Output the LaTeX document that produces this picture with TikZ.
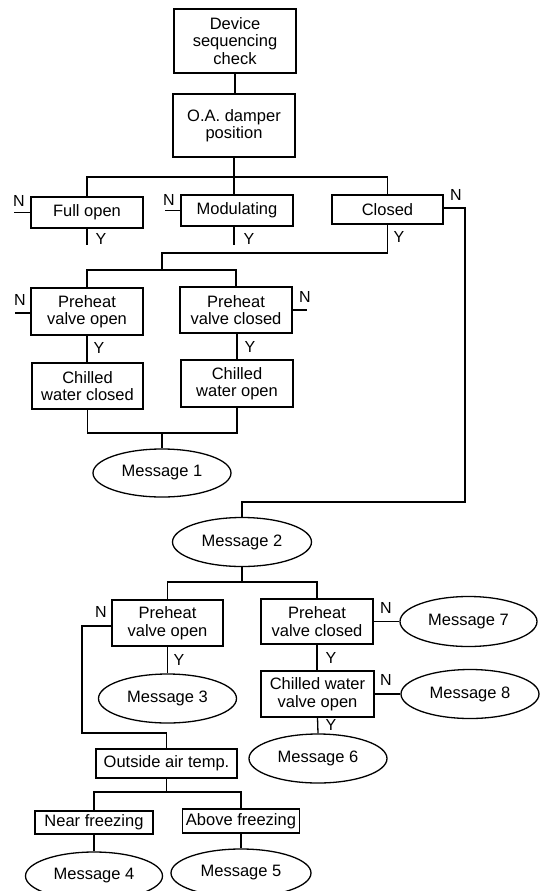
\documentclass[tikz,border=0pt]{standalone}
\usepackage{fontspec}
\setmainfont{Liberation Sans}
\usetikzlibrary{shapes.geometric}
\newcommand{\boxfont}{\fontsize{16.5}{17.5}\selectfont}
\newcommand{\lblfont}{\fontsize{16}{16}\selectfont}
\begin{document}
\begin{tikzpicture}[x=1pt,y=-1pt,
  box/.style={draw,line width=1.3pt,rectangle,inner sep=0pt,align=center,font=\boxfont},
  msg/.style={draw,line width=1.3pt,ellipse,inner sep=0pt,font=\boxfont},
  lbl/.style={inner sep=0pt,font=\lblfont},
  conn/.style={line width=1.3pt}]
\useasboundingbox (0,0) rectangle (542,891);
\clip (0,0) rectangle (542,891);
\fill[white] (0,0) rectangle (542,891);

% boxes
\node[box,minimum width=122pt,minimum height=64pt] (dev) at (235,41) {Device\\sequencing\\check};
\node[box,minimum width=122pt,minimum height=63pt] (oad) at (234,125.5) {O.A. damper\\position};
\node[box,minimum width=112pt,minimum height=31pt] (full) at (87,212.5) {Full open};
\node[box,minimum width=112pt,minimum height=31pt] (mod) at (237,210.5) {Modulating};
\node[box,minimum width=111pt,minimum height=29pt] (clo) at (387.5,209.5) {Closed};
\node[box,minimum width=112pt,minimum height=47pt] (pvo1) at (87,311.5) {Preheat\\valve open};
\node[box,minimum width=112pt,minimum height=46pt] (pvc1) at (236,310) {Preheat\\valve closed};
\node[box,minimum width=111pt,minimum height=46pt] (cwc) at (87.5,386) {Chilled\\water closed};
\node[box,minimum width=112pt,minimum height=47pt] (cwo) at (237,383.5) {Chilled\\water open};
\node[msg,minimum width=138pt,minimum height=48pt] (m1) at (162,473) {Message 1};
\node[msg,minimum width=139pt,minimum height=49pt] (m2) at (242,542) {Message 2};
\node[box,minimum width=111pt,minimum height=46pt] (pvo2) at (167.5,623) {Preheat\\valve open};
\node[box,minimum width=112pt,minimum height=45pt] (pvc2) at (317,621.5) {Preheat\\valve closed};
\node[msg,minimum width=138pt,minimum height=49pt] (m3) at (167.5,698.5) {Message 3};
\node[msg,minimum width=137pt,minimum height=50pt] (m7) at (468.5,621.5) {Message 7};
\node[box,minimum width=113pt,minimum height=46pt] (cwv) at (317.5,694) {Chilled water\\valve open};
\node[msg,minimum width=138pt,minimum height=49pt] (m8) at (470,694) {Message 8};
\node[msg,minimum width=138pt,minimum height=49pt] (m6) at (318,758.5) {Message 6};
\node[box,minimum width=141pt,minimum height=29pt] (oat) at (166.5,763.5) {Outside air temp.};
\node[box,minimum width=118pt,minimum height=23pt] (near) at (94,822.5) {Near freezing};
\node[box,minimum width=117pt,minimum height=24pt] (above) at (241,821) {Above freezing};
\node[msg,minimum width=137pt,minimum height=48pt] (m4) at (94,876) {Message 4};
\node[msg,minimum width=140pt,minimum height=48pt] (m5) at (241,873) {Message 5};

% coordinates
\coordinate (b1) at (234,177);
\coordinate (fullN) at (14,212.5);
\coordinate (modN) at (165,210.5);
\coordinate (cn1) at (465,208);
\coordinate (cn2) at (465,502);
\coordinate (fullY) at (87,245);
\coordinate (modY) at (234,245);
\coordinate (cy) at (162,253);
\coordinate (b2) at (162,270);
\coordinate (p1N) at (15,313);
\coordinate (p2N) at (307,310);
\coordinate (b3) at (162,433);
\coordinate (b4) at (242,582);
\coordinate (pn1) at (82,626);
\coordinate (pn2) at (82,733);
\coordinate (b5) at (166.5,792);

% connectors
\draw[conn] (dev.south) -- (dev.south |- oad.north);
\draw[conn] (oad.south) -- (oad.south |- mod.north);
\draw[conn] (full.north) |- (b1) -| (clo.north);
\draw[conn] (full.west) -- (fullN);
\draw[conn] (mod.west) -- (modN);
\draw[conn] (full.south) -- (fullY);
\draw[conn] (modY |- mod.south) -- (modY);
\draw[conn] (clo.east |- cn1) -- (cn1) -- (cn2) -| (m2.north);
\draw[conn] (clo.south) |- (cy) -- (b2);
\draw[conn] (pvo1.north) |- (b2) -| (pvc1.north);
\draw[conn] (pvo1.west |- p1N) -- (p1N);
\draw[conn] (pvc1.east |- p2N) -- (p2N);
\draw[conn] (pvo1.south) -- (cwc.north -| pvo1.south);
\draw[conn] (pvc1.south -| cwo.north) -- (cwo.north);
\draw[conn] (cwc.south) |- (b3) -| (cwo.south);
\draw[conn] (b3) -- (m1.north);
\draw[conn] (m2.south) -- (b4);
\draw[conn] (pvo2.north) |- (b4) -| (pvc2.north);
\draw[conn] (pvo2.west |- pn1) -- (pn1) -- (pn2) -| (oat.north);
\draw[conn] (pvo2.south) -- (m3.north);
\draw[conn] (pvc2.east) -- (m7.west);
\draw[conn] (pvc2.south) -- (cwv.north -| pvc2.south);
\draw[conn] (cwv.east) -- (m8.west);
\draw[conn] (cwv.south) -- (m6.north);
\draw[conn] (oat.south) -- (b5);
\draw[conn] (near.north) |- (b5) -| (above.north);
\draw[conn] (near.south) -- (m4.north);
\draw[conn] (above.south) -- (m5.north);

% labels
\node[lbl] (l1) at (19,201) {N};
\node[lbl] (l2) at (101,239) {Y};
\node[lbl] (l3) at (169,200) {N};
\node[lbl] (l4) at (249,239) {Y};
\node[lbl] (l5) at (456,195) {N};
\node[lbl] (l6) at (399,237) {Y};
\node[lbl] (l7) at (20,300) {N};
\node[lbl] (l8) at (99,348) {Y};
\node[lbl] (l9) at (305,297) {N};
\node[lbl] (l10) at (250,347) {Y};
\node[lbl] (l11) at (101,612) {N};
\node[lbl] (l12) at (179,660) {Y};
\node[lbl] (l13) at (386,608) {N};
\node[lbl] (l14) at (331,658) {Y};
\node[lbl] (l15) at (386,680) {N};
\node[lbl] (l16) at (331,725) {Y};
\end{tikzpicture}
\end{document}
